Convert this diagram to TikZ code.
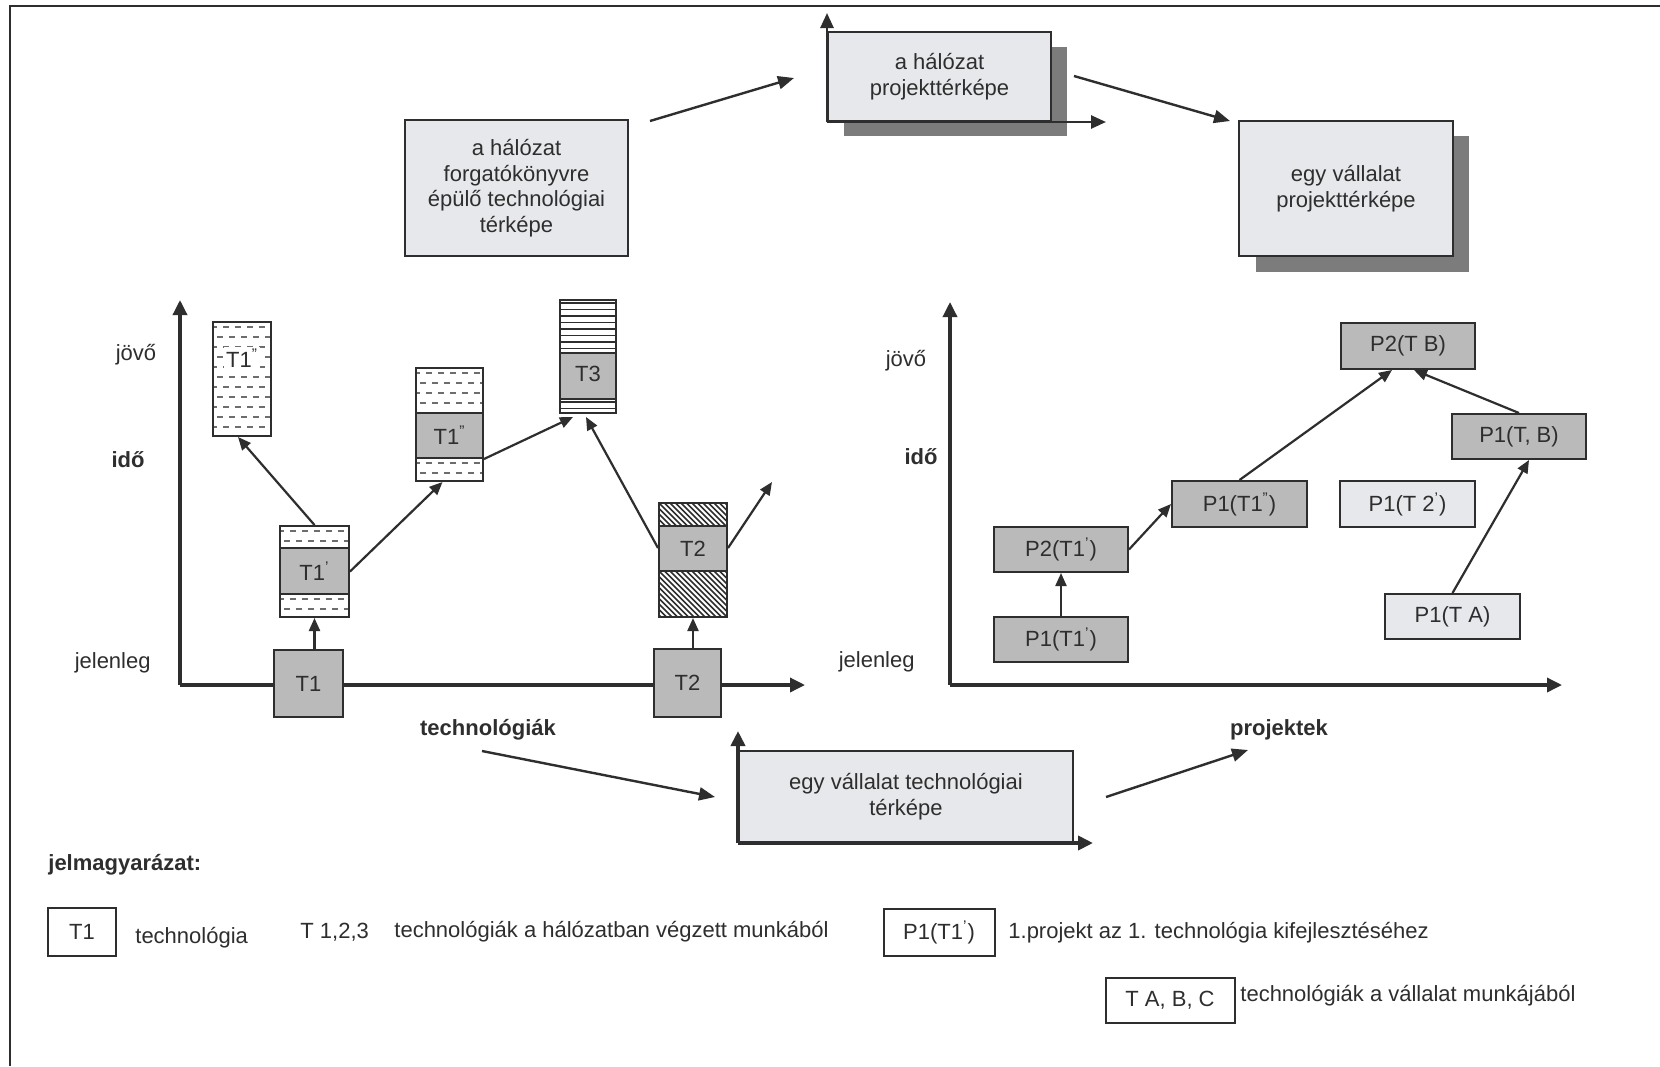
\documentclass[tikz,border=0pt]{standalone}
\usepackage{fontspec}
\setmainfont{Liberation Sans}
\usetikzlibrary{arrows.meta,calc}
\definecolor{ink}{HTML}{2E2E2E}
\definecolor{boxdark}{HTML}{BABABA}
\definecolor{boxlight}{HTML}{E7E8EB}
\definecolor{shadowc}{HTML}{7C7C7C}
\newcommand\dashrows[4]{%
  \begin{scope}
    \clip (#1,#2) rectangle (#3,#4);
    \fill[white] (#1,#2) rectangle (#3,#4);
    \foreach \k in {0,2,...,14}{\draw[ink!70,line width=0.8pt,dash pattern=on 3pt off 3pt] (#1-2,#2+5+\k*10) -- (#3,#2+5+\k*10);}
    \foreach \k in {1,3,...,13}{\draw[ink!70,line width=0.8pt,dash pattern=on 3pt off 3pt] (#1-8,#2+5+\k*10) -- (#3,#2+5+\k*10);}
  \end{scope}}
\newcommand\hlinerows[4]{%
  \begin{scope}
    \clip (#1,#2) rectangle (#3,#4);
    \fill[white] (#1,#2) rectangle (#3,#4);
    \foreach \k in {0,...,9}{\draw[ink,line width=0.7pt] (#1,#2+3+\k*6.5) -- (#3,#2+3+\k*6.5);}
  \end{scope}}
\newcommand\hatchrows[4]{%
  \begin{scope}
    \clip (#1,#2) rectangle (#3,#4);
    \fill[white] (#1,#2) rectangle (#3,#4);
    \foreach \k in {-12,...,14}{\draw[ink,line width=0.8pt] (#1+\k*5.5,#2) -- ++(60,60);}
  \end{scope}}
\begin{document}
\begin{tikzpicture}[x=0.5pt,y=-0.5pt,
  txt/.style={font=\fontsize{11}{12.8}\selectfont, text=ink, inner sep=0pt},
  boldtxt/.style={txt, font=\fontsize{11}{12.8}\selectfont\bfseries},
  arr/.style={draw=ink, line width=1.1pt, -{Triangle[length=6.5pt,width=5.5pt]}},
  bigarr/.style={draw=ink, line width=1.2pt, -{Triangle[length=8pt,width=6.5pt]}},
  axisarr/.style={draw=ink, line width=1.7pt, -{Triangle[length=7.5pt,width=7pt]}},
  minaxis/.style={draw=ink, line width=1.3pt, -{Triangle[length=7.5pt,width=6.5pt]}},
  frameline/.style={draw=ink, line width=1pt},
  divider/.style={draw=ink, line width=1.2pt},
  dbox/.style={txt, draw=ink, line width=1pt, fill=boxdark},
  lbox/.style={txt, draw=ink, line width=1pt, fill=boxlight},
  wbox/.style={txt, draw=ink, line width=1pt, fill=white},
  ebox/.style={draw=ink, line width=1pt, inner sep=0pt},
  shadowbox/.style={fill=shadowc, draw=none},
]
\useasboundingbox (0,0) rectangle (1660,1066);
\fill[white] (0,0) rectangle (1660,1066);
\draw[frameline] (10,1066) -- (10,6) -- (1660,6);

% ---------- top boxes ----------
\node[lbox, minimum width=111.5pt, minimum height=68pt, align=center] (netTech) at (516.5,188)
  {a hálózat\\forgatókönyvre\\épülő technológiai\\térképe};
\fill[shadowbox] (844,47) rectangle (1067,136);
\node[lbox, minimum width=111.5pt, minimum height=44.5pt, align=center] (netProj) at (939.5,76.5)
  {a hálózat\\projekttérképe};
\draw[minaxis] (netProj.south west) -- ++(0,-109);
\draw[minaxis] (netProj.south west) -- ++(279,0);
\fill[shadowbox] (1256,136) rectangle (1469,272);
\node[lbox, minimum width=107pt, minimum height=67.5pt, align=center] (compProj) at (1346,188.5)
  {egy vállalat\\projekttérképe};
\coordinate (a1s) at (650,121); \coordinate (a1e) at (794,78);
\draw[bigarr] (a1s) -- (a1e);
\coordinate (a2s) at (1074,76); \coordinate (a2e) at (1230,121);
\draw[bigarr] (a2s) -- (a2e);

% ---------- left graph ----------
\coordinate (LO) at (180,685);
\draw[axisarr] (LO) -- ++(0,-385);
\draw[axisarr] (LO) -- ++(625,0);
\node[txt] (ljovo) at (136,355) {jövő};
\node[boldtxt] (lido) at (128,460) {idő};
\node[txt, anchor=east] (ljel) at (151,663) {jelenleg};
\node[boldtxt] (ltech) at (488,730) {technológiák};

\node[dbox, minimum width=34.5pt, minimum height=33.5pt] (T1) at (308.5,683.5) {T1};

% T1'
\dashrows{280}{526}{349}{548}
\dashrows{280}{594}{349}{617}
\fill[boxdark] (280,548) rectangle (349,594);
\draw[divider] (280,548) -- (349,548) (280,594) -- (349,594);
\node[ebox, minimum width=34.5pt, minimum height=45.5pt] (T1p) at (314.5,571.5) {};
\node[txt] (T1pl) at (314.5,571) {T1\textsuperscript{'}};

% T1'' (upper left)
\dashrows{213}{322}{271}{436}
\node[ebox, minimum width=29pt, minimum height=57pt] (T1ppa) at (242,379) {};
\node[txt, fill=white, inner sep=1pt] (T1ppal) at (242,358) {T1\textsuperscript{''}};

% T1'' (middle)
\dashrows{416}{368}{483}{413}
\dashrows{416}{458}{483}{481}
\fill[boxdark] (416,413) rectangle (483,458);
\draw[divider] (416,413) -- (483,413) (416,458) -- (483,458);
\node[ebox, minimum width=33.5pt, minimum height=56.5pt] (T1ppb) at (449.5,424.5) {};
\node[txt] (T1ppbl) at (449.5,435.5) {T1\textsuperscript{''}};

% T3
\hlinerows{560}{300}{616}{353}
\hlinerows{560}{399}{616}{413}
\fill[boxdark] (560,353) rectangle (616,399);
\draw[divider] (560,353) -- (616,353) (560,399) -- (616,399);
\node[ebox, minimum width=28pt, minimum height=56.5pt] (T3) at (588,356.5) {};
\node[txt] (T3l) at (588,374) {T3};

% T2'
\hatchrows{659}{503}{727}{526}
\hatchrows{659}{571}{727}{617}
\fill[boxdark] (659,526) rectangle (727,571);
\draw[divider] (659,526) -- (727,526) (659,571) -- (727,571);
\node[ebox, minimum width=34pt, minimum height=57pt] (T2p) at (693,560) {};
\node[txt] (T2pl) at (693,548.5) {T2};

\node[dbox, minimum width=33.5pt, minimum height=34pt] (T2) at (687.5,683) {T2};

\draw[arr] (T1p.south |- T1.north) -- (T1p.south);
\draw[arr] (T1p.north) -- ($(T1ppa.south)+(-4,0)$);
\draw[arr] (T1p.east) -- ($(T1ppb.south)+(-7,0)$);
\draw[arr] ($(T1ppb.south east)+(0,-23)$) -- ($(T3.south)+(-15,3)$);
\draw[arr] ($(T2p.west)+(0,-12)$) -- ($(T3.south)+(-2,3)$);
\coordinate (T2out) at (772,482);
\draw[arr] ($(T2p.east)+(0,-12)$) -- (T2out);
\draw[arr] (T2p.south |- T2.north) -- (T2p.south);

% ---------- right graph ----------
\coordinate (RO) at (950,685);
\draw[axisarr] (RO) -- ++(0,-383);
\draw[axisarr] (RO) -- ++(612,0);
\node[txt] (rjovo) at (906,361) {jövő};
\node[boldtxt] (rido) at (921,457) {idő};
\node[txt, anchor=east] (rjel) at (915,662) {jelenleg};
\node[boldtxt] (rproj) at (1279,730) {projektek};

\node[dbox, minimum width=67pt, minimum height=23pt] (P2TB) at (1408,346) {P2(T B)};
\node[dbox, minimum width=67pt, minimum height=22.5pt] (P1TB) at (1519,436.5) {P1(T, B)};
\node[dbox, minimum width=67.5pt, minimum height=23pt] (P1T1pp) at (1239.5,504) {P1(T1\textsuperscript{''})};
\node[lbox, minimum width=67.5pt, minimum height=23pt] (P1T2p) at (1407.5,504) {P1(T 2\textsuperscript{'})};
\node[dbox, minimum width=67pt, minimum height=22.5pt] (P2T1p) at (1061,549.5) {P2(T1\textsuperscript{'})};
\node[dbox, minimum width=67pt, minimum height=22.5pt] (P1T1p) at (1061,639.5) {P1(T1\textsuperscript{'})};
\node[lbox, minimum width=67.5pt, minimum height=22.5pt] (P1TA) at (1452.5,616.5) {P1(T A)};

\draw[arr] (P1T1p.north) -- (P2T1p.south);
\draw[arr] (P2T1p.east) -- (P1T1pp.west);
\draw[arr] (P1T1pp.north) -- ($(P2TB.south)+(-16,0)$);
\draw[arr] (P1TB.north) -- ($(P2TB.south)+(6,0)$);
\draw[arr] (P1TA.north) -- ($(P1TB.south)+(10,0)$);

% ---------- bottom box ----------
\node[lbox, minimum width=167pt, minimum height=45.5pt, align=center] (compTech) at (906,796.5)
  {egy vállalat technológiai\\térképe};
\draw[axisarr, line width=2pt] (compTech.south west) -- ++(0,-112);
\draw[axisarr, line width=2pt] (compTech.south west) -- ++(355,0);
\coordinate (b1s) at (482,751); \coordinate (b1e) at (715,797);
\draw[bigarr] (b1s) -- (b1e);
\coordinate (b2s) at (1106,797); \coordinate (b2e) at (1248,750);
\draw[bigarr] (b2s) -- (b2e);

% ---------- legend ----------
\node[boldtxt, anchor=west] (legtitle) at (48,865) {jelmagyarázat:};
\node[wbox, minimum width=34pt, minimum height=24pt] (legT1) at (82,931.5) {T1};
\node[txt, anchor=west] (legT1t) at (135,938) {technológia};
\node[txt, anchor=west] (legT123) at (300,932) {T 1,2,3};
\node[txt, anchor=west] (legT123t) at (394,932) {technológiák a hálózatban végzett munkából};
\node[wbox, minimum width=55.5pt, minimum height=23.5pt] (legP) at (939,932) {P1(T1\textsuperscript{'})};
\node[txt, anchor=west] (legPt) at (1008,933) {1.projekt az 1. technológia kifejlesztéséhez};
\node[wbox, minimum width=64.5pt, minimum height=22.5pt] (legTABC) at (1170,1000.5) {T A, B, C};
\node[txt, anchor=west] (legTABCt) at (1240,996) {technológiák a vállalat munkájából};
\end{tikzpicture}
\end{document}
